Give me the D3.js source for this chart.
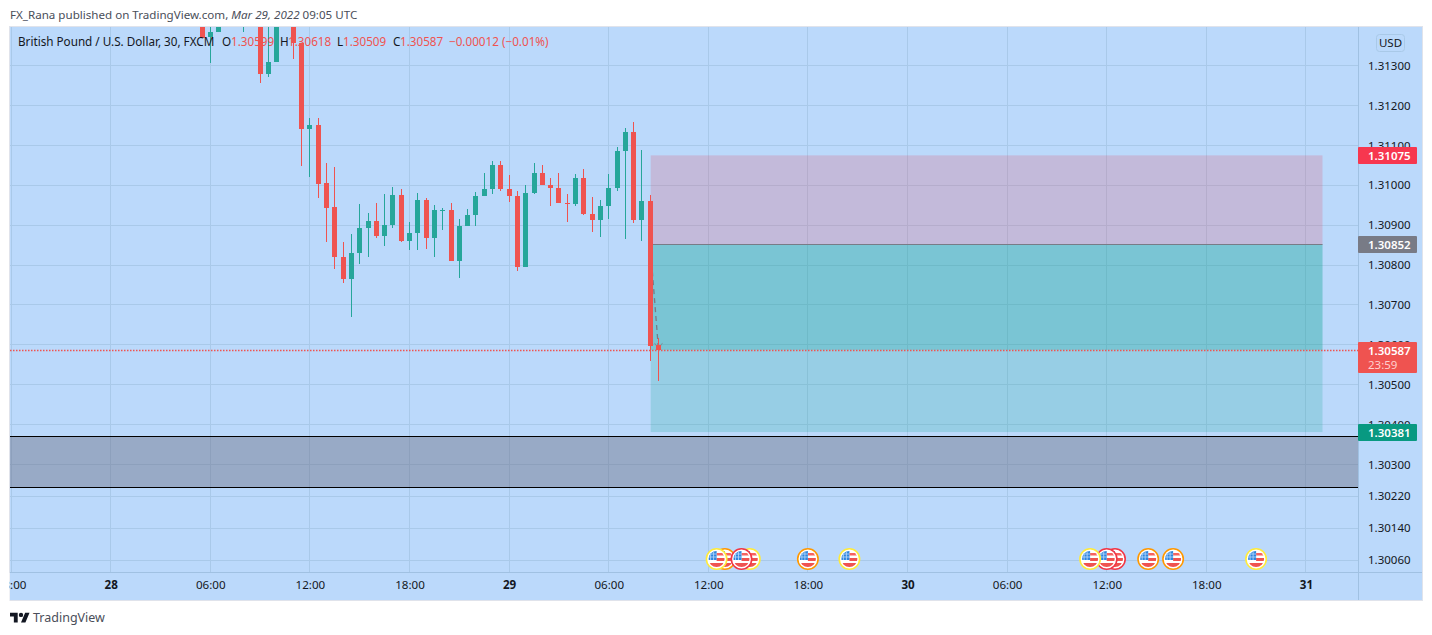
<!DOCTYPE html>
<html>
<head>
<meta charset="utf-8">
<script src="https://cdn.jsdelivr.net/npm/d3@7"></script>
<style>
  html, body { margin: 0; padding: 0; background: #fff; }
  svg { display: block; }
  text { font-family: "Noto Sans", sans-serif; }
  .axis .domain { display: none; }
</style>
</head>
<body>
<svg id="chart" width="1432" height="635"></svg>
<script>
// candles, first one sits at bar 11 (28 Mar 05:30). bars 14-17 and 21 are above the pane
const firstBar = 11;
const opens = [1.3141, 1.31373, 1.31384, 1.3142, 1.3145, 1.3144, 1.3147, 1.3144, 1.31279, 1.31309, 1.3142, 1.3143, 1.31358, 1.31142, 1.31151, 1.31006, 1.30946, 1.30821, 1.30764, 1.30829, 1.30892, 1.3091, 1.30874, 1.309, 1.30975, 1.30861, 1.3088, 1.30962, 1.30869, 1.30937, 1.30938, 1.30809, 1.30897, 1.30925, 1.30972, 1.3099, 1.3105, 1.3099, 1.30974, 1.30796, 1.3098, 1.31031, 1.31, 1.30992, 1.30956, 1.30953, 1.31018, 1.30927, 1.30914, 1.30947, 1.30992, 1.31085, 1.31134, 1.30912, 1.30961, 1.30599];
const highs = [1.3142, 1.3142, 1.3143, 1.3146, 1.3149, 1.31485, 1.3149, 1.3145, 1.3142, 1.3144, 1.3145, 1.3144, 1.31358, 1.31169, 1.31169, 1.31055, 1.31045, 1.30857, 1.30878, 1.30952, 1.3093, 1.30955, 1.30978, 1.30996, 1.30991, 1.30908, 1.30981, 1.30968, 1.3095, 1.30943, 1.30955, 1.30915, 1.3094, 1.30983, 1.31031, 1.31061, 1.31061, 1.31026, 1.30986, 1.31001, 1.31056, 1.3105, 1.31018, 1.31031, 1.30978, 1.31028, 1.31041, 1.30971, 1.30963, 1.31028, 1.31096, 1.31144, 1.31159, 1.31088, 1.30976, 1.30618];
const lows = [1.31369, 1.31306, 1.31384, 1.31405, 1.3144, 1.31385, 1.3143, 1.31257, 1.31272, 1.31309, 1.31405, 1.31318, 1.31049, 1.31022, 1.30968, 1.30858, 1.30791, 1.30756, 1.3067, 1.30803, 1.30821, 1.30868, 1.30848, 1.30894, 1.30858, 1.30838, 1.30838, 1.30841, 1.30821, 1.30889, 1.30809, 1.30768, 1.30897, 1.30899, 1.30972, 1.30979, 1.30986, 1.30959, 1.30785, 1.30796, 1.30979, 1.31, 1.30949, 1.30956, 1.30909, 1.30949, 1.30925, 1.30883, 1.30871, 1.30916, 1.30986, 1.30866, 1.30906, 1.30861, 1.30559, 1.30509];
const closes = [1.31369, 1.31385, 1.3142, 1.3145, 1.3148, 1.3147, 1.31455, 1.31279, 1.31309, 1.3142, 1.31435, 1.31358, 1.31142, 1.31151, 1.31004, 1.30944, 1.30819, 1.30764, 1.30829, 1.30892, 1.3091, 1.30874, 1.309, 1.30975, 1.30861, 1.3088, 1.30962, 1.30869, 1.30937, 1.30938, 1.30809, 1.30897, 1.30925, 1.30972, 1.3099, 1.3105, 1.3099, 1.30974, 1.30796, 1.3098, 1.31031, 1.31, 1.30992, 1.30956, 1.30953, 1.31018, 1.30927, 1.30914, 1.30947, 1.30992, 1.31085, 1.31134, 1.30912, 1.30961, 1.30598, 1.30587];

const priceTicks = [1.313, 1.312, 1.311, 1.31, 1.309, 1.308, 1.307, 1.306, 1.305, 1.304, 1.303, 1.3022, 1.3014, 1.3006];
const timeTicks = [-12, 0, 12, 24, 36, 48, 60, 72, 84, 96, 108, 120, 132, 144];
const timeLabels = ['18:00', '28', '06:00', '12:00', '18:00', '29', '06:00', '12:00', '18:00', '30', '06:00', '12:00', '18:00', '31'];

// position tool + zone drawn on the chart
const stopPrice = 1.31075;
const entryPrice = 1.30852;
const targetPrice = 1.30381;
const lastPrice = 1.30587;
const toolBars = [65, 146];
const zonePrices = [1.3037, 1.30242];

// economic calendar flags: bar index and ring colour (draw order back to front)
const eventBars = [74, 77, 73, 76, 84, 89, 121, 120, 118, 125, 128, 138];
const eventRings = ['#FF9800', '#FFEB3B', '#FFEB3B', '#F23645', '#FF9800', '#FFEB3B', '#F23645', '#F23645', '#FFEB3B', '#FF9800', '#FF9800', '#FFEB3B'];

const paneL = 10, paneR = 1358, paneT = 27, paneB = 572, outerR = 1422, outerB = 600;
const upColor = '#26A69A', downColor = '#EF5350', bgColor = '#BBD9FB', lineColor = '#A0C1E2';

const x = d3.scaleLinear().domain([0, 144]).range([110.7, 1305.9]);
const y = d3.scaleLinear().domain([1.313, 1.3006]).range([65.7, 560]);

const svg = d3.select('#chart');

svg.append('text').attr('x', 10).attr('y', 19).attr('font-size', 11.6).attr('fill', '#4A4E59')
  .selectAll('tspan').data([['FX_Rana published on TradingView.com, ', 'normal'], ['Mar 29, 2022', 'italic'], [' 09:05 UTC', 'normal']])
  .join('tspan').attr('font-style', d => d[1]).text(d => d[0]);

svg.append('rect').attr('x', paneL - 0.5).attr('y', paneT - 0.5)
  .attr('width', outerR - paneL + 1).attr('height', outerB - paneT + 1)
  .attr('fill', bgColor).attr('stroke', '#E0E3EB');

svg.append('clipPath').attr('id', 'pane').append('rect')
  .attr('x', paneL).attr('y', paneT).attr('width', paneR - paneL).attr('height', paneB - paneT);
const pane = svg.append('g').attr('clip-path', 'url(#pane)');

// grid
pane.append('g').selectAll('line').data(priceTicks).join('line')
  .attr('x1', paneL).attr('x2', paneR)
  .attr('y1', d => Math.floor(y(d)) + 0.5).attr('y2', d => Math.floor(y(d)) + 0.5)
  .attr('stroke', '#A9C9E9');
pane.append('g').selectAll('line').data(timeTicks).join('line')
  .attr('x1', d => Math.floor(x(d)) + 0.5).attr('x2', d => Math.floor(x(d)) + 0.5)
  .attr('y1', paneT).attr('y2', paneB)
  .attr('stroke', '#A9C9E9');

// short position tool, sits under the candles
const toolL = x(toolBars[0]) + 0.5, toolW = x(toolBars[1]) - x(toolBars[0]) - 0.5;
const toolRect = (from, to, fill) => pane.append('rect')
  .attr('x', toolL).attr('width', toolW)
  .attr('y', y(from)).attr('height', y(to) - y(from)).attr('fill', fill);
toolRect(stopPrice, entryPrice, 'rgba(230,67,90,0.2)');
toolRect(entryPrice, targetPrice, 'rgba(0,160,136,0.19)');
toolRect(entryPrice, lastPrice, 'rgba(0,160,136,0.19)');
pane.append('line').attr('x1', toolL).attr('x2', toolL + toolW)
  .attr('y1', Math.floor(y(entryPrice)) + 0.5).attr('y2', Math.floor(y(entryPrice)) + 0.5)
  .attr('stroke', '#787B86');

// projected move
pane.append('line')
  .attr('x1', x(65)).attr('y1', y(entryPrice))
  .attr('x2', x(66)).attr('y2', y(lastPrice))
  .attr('stroke', '#787B86').attr('stroke-width', 1.3).attr('stroke-dasharray', '5,4');
pane.append('path')
  .attr('d', d3.line()([[x(66) - 4, y(lastPrice) - 7], [x(66), y(lastPrice) - 1], [x(66) + 4, y(lastPrice) - 7]]))
  .attr('fill', 'none').attr('stroke', '#787B86').attr('stroke-opacity', 0.6);

// candles
const bars = closes.map((c, i) => ({ i: i + firstBar, o: opens[i], h: highs[i], l: lows[i], c }));
const candle = pane.append('g').selectAll('g').data(bars).join('g')
  .attr('fill', d => (d.c >= d.o ? upColor : downColor));
candle.append('rect')
  .attr('x', d => Math.floor(x(d.i)))
  .attr('width', 1)
  .attr('y', d => Math.round(y(d.h)))
  .attr('height', d => Math.max(1, Math.round(y(d.l)) - Math.round(y(d.h))));
candle.append('rect')
  .attr('x', d => Math.floor(x(d.i)) - 2)
  .attr('width', 5)
  .attr('y', d => Math.round(y(Math.max(d.o, d.c))))
  .attr('height', d => Math.max(1, Math.round(y(Math.min(d.o, d.c))) - Math.round(y(Math.max(d.o, d.c)))));

// demand zone
pane.append('rect').attr('x', paneL).attr('width', paneR - paneL)
  .attr('y', y(zonePrices[0])).attr('height', y(zonePrices[1]) - y(zonePrices[0]))
  .attr('fill', 'rgba(100,100,120,0.4)');
pane.append('g').selectAll('line').data(zonePrices).join('line')
  .attr('x1', paneL).attr('x2', paneR)
  .attr('y1', d => Math.floor(y(d)) + 0.5).attr('y2', d => Math.floor(y(d)) + 0.5)
  .attr('stroke', '#000');

// last price line
pane.append('line').attr('x1', paneL).attr('x2', paneR)
  .attr('y1', Math.round(y(lastPrice)) + 0.5).attr('y2', Math.round(y(lastPrice)) + 0.5)
  .attr('stroke', downColor).attr('stroke-width', 1.5).attr('stroke-dasharray', '1.5,1.5');

// event flags
const flags = pane.append('g').selectAll('g').data(eventBars).join('g')
  .attr('transform', d => `translate(${x(d)},559)`);
svg.append('clipPath').attr('id', 'flagClip').append('circle').attr('r', 8);
flags.append('circle').attr('r', 10.2).attr('fill', '#fff').attr('stroke', (d, i) => eventRings[i]).attr('stroke-width', 1.6);
const flagInner = flags.append('g').attr('clip-path', 'url(#flagClip)');
flagInner.append('rect').attr('x', 0).attr('y', -6).attr('width', 9).attr('height', 2.5).attr('fill', '#F7625F');
flagInner.append('rect').attr('x', 0).attr('y', -1).attr('width', 9).attr('height', 3).attr('fill', '#EF5350');
flagInner.append('rect').attr('x', -9).attr('y', 4).attr('width', 18).attr('height', 5).attr('fill', '#EF5350');
flagInner.append('rect').attr('x', -9).attr('y', -9).attr('width', 9).attr('height', 10).attr('fill', '#2E86DE');
flagInner.append('path').attr('d', 'M-6,-8V1M-3,-8V1M-8,-5H0M-8,-2H0').attr('stroke', '#BBD9FB').attr('stroke-width', 0.8);

// legend line
const legend = svg.append('text').attr('y', 45.5).attr('font-size', 11.7);
const legendParts = [
  [18, 'British Pound / U.S. Dollar, 30, FXCM', '#131722'],
  [222, 'O', '#131722'], [231, '1.30599', downColor],
  [280, 'H', '#131722'], [288, '1.30618', downColor],
  [337, 'L', '#131722'], [343, '1.30509', downColor],
  [393, 'C', '#131722'], [400, '1.30587', downColor],
  [449, '\u22120.00012 (\u22120.01%)', downColor]
];
legend.selectAll('tspan').data(legendParts).join('tspan')
  .attr('x', d => d[0]).attr('fill', d => d[2]).text(d => d[1]);

// axes lines
svg.append('line').attr('x1', paneR + 0.5).attr('x2', paneR + 0.5).attr('y1', paneT).attr('y2', outerB).attr('stroke', lineColor);
svg.append('line').attr('x1', paneL).attr('x2', outerR).attr('y1', paneB + 0.5).attr('y2', paneB + 0.5).attr('stroke', lineColor);

const yAxis = svg.append('g').attr('class', 'axis').attr('transform', `translate(${paneR},0)`)
  .call(d3.axisRight(y).tickValues(priceTicks).tickSize(0).tickPadding(10).tickFormat(d3.format('.5f')));
yAxis.selectAll('text').attr('font-family', '"Noto Sans", sans-serif').attr('font-size', 11.5).attr('fill', '#131722');

const xAxis = svg.append('g').attr('class', 'axis').attr('transform', `translate(0,${paneB})`)
  .call(d3.axisBottom(x).tickValues(timeTicks).tickSize(0).tickPadding(9).tickFormat((d, i) => timeLabels[i]));
xAxis.selectAll('text').attr('font-family', '"Noto Sans", sans-serif').attr('font-size', 11.6).attr('fill', '#131722')
  .attr('font-weight', (d, i) => (timeLabels[i].length === 2 ? 700 : 400));
// the first label is cut by the pane edge
svg.append('rect').attr('x', 0).attr('y', paneB + 1).attr('width', paneL - 0.5).attr('height', outerB - paneB).attr('fill', '#fff');

// price tags
const tags = [
  [stopPrice, '#F7374F', 17],
  [entryPrice, '#787B86', 17],
  [targetPrice, '#089981', 17]
];
const tag = svg.append('g').selectAll('g').data(tags).join('g');
tag.append('rect').attr('x', paneR).attr('width', 59).attr('height', d => d[2])
  .attr('y', d => Math.round(y(d[0])) - 8).attr('rx', 1).attr('fill', d => d[1]);
tag.append('text').attr('x', 1368).attr('y', d => Math.round(y(d[0])) + 4.5)
  .attr('font-size', 11.5).attr('font-weight', 600).attr('fill', '#fff').text(d => d3.format('.5f')(d[0]));

svg.append('rect').attr('x', paneR).attr('y', 342).attr('width', 59).attr('height', 31).attr('rx', 1).attr('fill', downColor);
svg.append('text').attr('x', 1368).attr('y', 354.5).attr('font-size', 11.5).attr('font-weight', 600).attr('fill', '#fff').text(d3.format('.5f')(lastPrice));
svg.append('text').attr('x', 1368).attr('y', 369).attr('font-size', 11.5).attr('fill', '#FFD0CE').text('23:59');

// currency badge
svg.append('rect').attr('x', 1376.5).attr('y', 34.5).attr('width', 28).attr('height', 17).attr('rx', 3)
  .attr('fill', 'none').attr('stroke', '#A9C9E8');
svg.append('text').attr('x', 1390.5).attr('y', 47).attr('text-anchor', 'middle').attr('font-size', 11.5).attr('fill', '#131722').text('USD');

// footer logo
const logo = svg.append('g').attr('transform', 'translate(10,610.5) scale(0.55)').attr('fill', '#131722');
logo.append('path').attr('d', 'M14 22H7V11H0V4h14v18zM28 22h-8l7.5-18h8L28 22z');
logo.append('circle').attr('cx', 20).attr('cy', 8).attr('r', 4);
svg.append('text').attr('x', 33).attr('y', 622).attr('font-size', 12.5).attr('fill', '#4A4E59').text('TradingView');
</script>
</body>
</html>
